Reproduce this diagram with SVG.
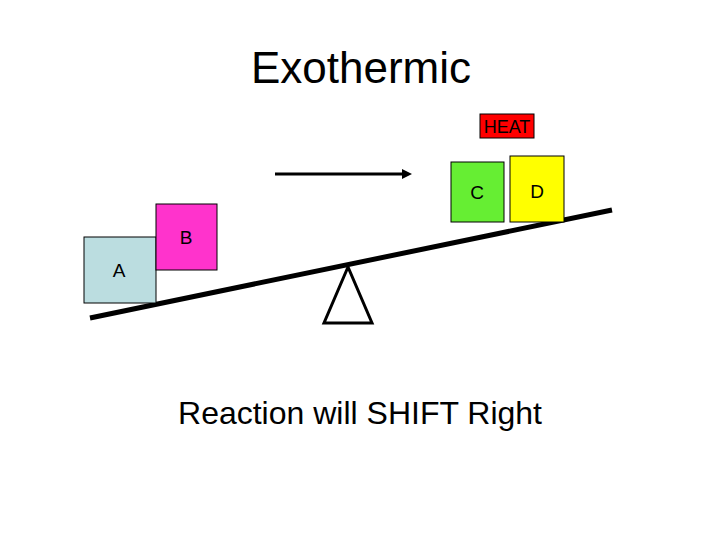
<svg xmlns="http://www.w3.org/2000/svg" width="720" height="540" viewBox="0 0 720 540">
<style>
text{font-family:"Liberation Sans",Arial,sans-serif;fill:#000;text-anchor:middle}
.box{stroke:#000;stroke-width:1}
.lbl{font-size:19px}
</style>
<defs>
<marker id="ah" markerWidth="10" markerHeight="10" refX="4" refY="5" orient="auto" markerUnits="userSpaceOnUse" viewBox="0 0 10 10">
<path d="M0,0 L10,5 L0,10 Z" fill="#000"/>
</marker>
</defs>
<rect width="720" height="540" fill="#fff"/>
<text x="361" y="83" font-size="44">Exothermic</text>
<g id="connectors">
<line x1="275" y1="174" x2="406" y2="174" stroke="#000" stroke-width="3" marker-end="url(#ah)"/>
</g>
<g id="beam"><line x1="90" y1="318" x2="612" y2="210" stroke="#000" stroke-width="5"/></g>
<g id="fulcrum"><polygon points="348,267 324,323 372,323" fill="none" stroke="#000" stroke-width="3"/></g>
<g id="heat"><rect class="box" x="480" y="114" width="54" height="24" fill="#ff0000"/><text x="507" y="133" font-size="18">HEAT</text></g>
<g id="C"><rect class="box" x="451" y="162" width="53" height="60" fill="#66ee33"/><text class="lbl" x="477" y="199">C</text></g>
<g id="D"><rect class="box" x="510" y="156" width="54" height="66" fill="#ffff00"/><text class="lbl" x="537" y="198">D</text></g>
<g id="A"><rect class="box" x="84" y="237" width="72" height="66" fill="#bbdde0"/><text class="lbl" x="119" y="277">A</text></g>
<g id="B"><rect class="box" x="156" y="204" width="61" height="66" fill="#ff33cc"/><text class="lbl" x="186" y="244">B</text></g>
<text x="360" y="424" font-size="32">Reaction will SHIFT Right</text>
</svg>
